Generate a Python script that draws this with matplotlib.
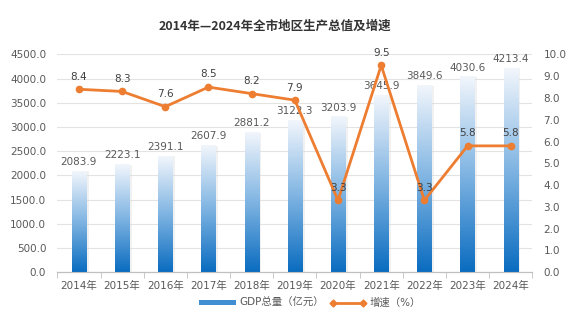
import numpy as np
import matplotlib.pyplot as plt
from matplotlib.colors import LinearSegmentedColormap
from matplotlib.patches import Patch
from matplotlib.lines import Line2D

plt.rcParams['font.family'] = ['DejaVu Sans', 'Noto Sans CJK SC']

years = ['2014年', '2015年', '2016年', '2017年', '2018年', '2019年',
         '2020年', '2021年', '2022年', '2023年', '2024年']
gdp = [2083.9, 2223.1, 2391.1, 2607.9, 2881.2, 3122.3,
       3203.9, 3645.9, 3849.6, 4030.6, 4213.4]
growth = [8.4, 8.3, 7.6, 8.5, 8.2, 7.9, 3.3, 9.5, 3.3, 5.8, 5.8]

txt = '#595959'
orange = '#ED7D31'
cmap = LinearSegmentedColormap.from_list('bar', ['#0A6CC0', '#7FB4E2', '#F2F6FC'])

fig = plt.figure(figsize=(5.85, 3.24), dpi=100)
ax = fig.add_axes([0.098, 0.16, 0.812, 0.672])
ax2 = ax.twinx()

x = np.arange(len(years))
w = 0.33
grad = np.linspace(0, 1, 256).reshape(-1, 1)
for xi, v in zip(x, gdp):
    # soft shadow behind the bar
    ax.bar(xi + 0.03, v, width=w + 0.06, color='#d9d9d9', alpha=0.35, zorder=2)
    ax.imshow(grad, extent=[xi - w / 2, xi + w / 2, 0, v], origin='lower',
              aspect='auto', cmap=cmap, zorder=3)
    ax.text(xi, v + 95, f'{v:.1f}', ha='center', va='bottom', fontsize=7.5, color=txt, zorder=5)

ax.set_xlim(-0.5, len(years) - 0.5)
ax.set_ylim(0, 4500)
ax.set_yticks(np.arange(0, 4501, 500))
ax.set_yticklabels([f'{t:.1f}' for t in np.arange(0, 4501, 500)])
ax.grid(axis='y', color='#e3e3e3', linewidth=0.8, zorder=0)
ax.set_axisbelow(True)
ax.set_xticks(x)
ax.set_xticklabels(years)
ax.set_xticks(np.arange(-0.5, len(years), 1), minor=True)
ax.tick_params(axis='x', which='major', length=0, labelsize=7.5, labelcolor=txt, pad=6)
ax.tick_params(axis='x', which='minor', length=4, color='#bfbfbf')
ax.tick_params(axis='y', length=0, labelsize=7.5, labelcolor=txt, pad=8)

ax2.plot(x, growth, color=orange, linewidth=2, marker='o', markersize=4.5, zorder=6)
for xi, g in zip(x, growth):
    ax2.text(xi, g + 0.35, f'{g:.1f}', ha='center', va='bottom', fontsize=7.5, color='#404040', zorder=7)
ax2.set_ylim(0, 10)
ax2.set_yticks(np.arange(0, 10.1, 1))
ax2.set_yticklabels([f'{t:.1f}' for t in np.arange(0, 10.1, 1)])
ax2.tick_params(axis='y', length=0, labelsize=7.5, labelcolor=txt, pad=8)

for a in (ax, ax2):
    for s in ('top', 'left', 'right'):
        a.spines[s].set_visible(False)
    a.spines['bottom'].set_color('#bfbfbf')

fig.text(0.47, 0.92, '2014年—2024年全市地区生产总值及增速', ha='center', va='center',
         fontsize=9, fontweight='bold', color='#333333', family=['Noto Sans CJK SC', 'DejaVu Sans'])

handles = [Patch(facecolor='#3F8FD2', edgecolor='none'),
           Line2D([0], [0], color=orange, linewidth=2, marker='D', markersize=3.5)]
fig.legend(handles, ['GDP总量（亿元）', '增速（%）'], loc='center', bbox_to_anchor=(0.53, 0.065),
           ncol=2, frameon=False, fontsize=7.5, labelcolor=txt, numpoints=2,
           handlelength=3.5, handleheight=0.4, columnspacing=0.6, handletextpad=0.3)

fig.savefig('out.png', dpi=100, facecolor='white')
